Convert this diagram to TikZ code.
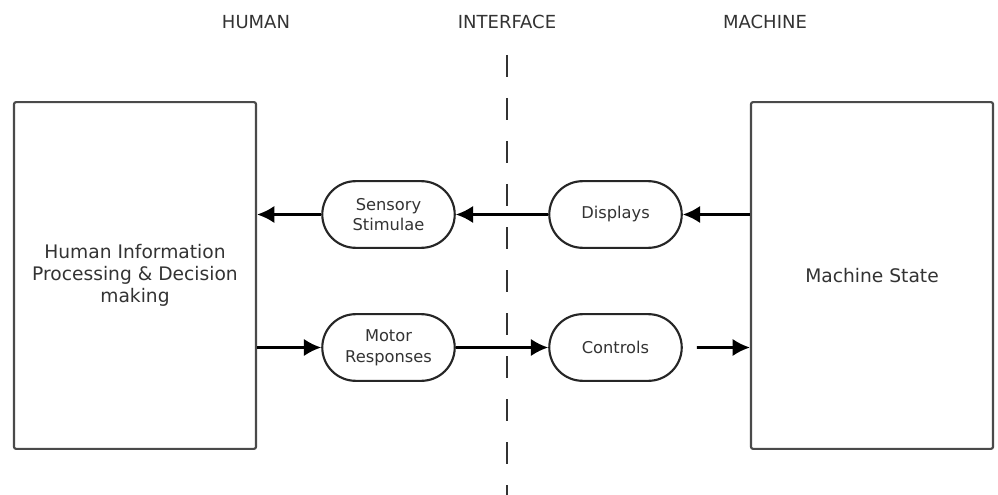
\documentclass[tikz,border=0pt]{standalone}
\usepackage{fontspec}
\setmainfont{DejaVu Sans}
\usetikzlibrary{shapes.misc,arrows.meta}
\definecolor{txtgray}{HTML}{333333}
\definecolor{linegray}{HTML}{4A4A4A}
\tikzset{
	bigbox/.style={draw=linegray,line width=1.6pt,rounded corners=1.5pt,minimum width=181.5pt,minimum height=260pt,align=center,text=txtgray,font=\fontsize{14}{16.5}\selectfont},
	pill/.style={draw=black!85,line width=1.6pt,rounded rectangle,minimum width=106pt,minimum height=50pt,align=center,text=txtgray,font=\fontsize{12.2}{15.5}\selectfont},
	side/.style={text=txtgray,font=\fontsize{13.5}{16}\selectfont},
	flow/.style={line width=1.9pt,-{Latex[length=13pt,width=13pt]}}
}
\begin{document}
\begin{tikzpicture}[x=0.75pt,y=-0.75pt]
	\useasboundingbox (0,0) rectangle (998,495);
	% headings
	\node[side] (human) at (256,22) {HUMAN};
	\node[side] (iface) at (507,22) {INTERFACE};
	\node[side] (machine) at (765,22) {MACHINE};
	\draw[black!80,line width=2pt,dash pattern=on 16.5pt off 15.75pt] (507,55) -- (507,495);
	% boxes
	\node[bigbox] (hip) at (135,275.5) {Human Information\\Processing \& Decision\\making};
	\node[bigbox] (ms) at (872,275.5) {Machine State};
	\node[pill] (sens) at (388.5,214.5) {Sensory\\Stimulae};
	\node[pill] (disp) at (615.5,214.5) {Displays};
	\node[pill] (motor) at (388.5,347.5) {Motor\\Responses};
	\node[pill] (ctrl) at (615.5,347.5) {Controls};
	% arrows
	\draw[flow] (ms.west |- disp) -- (disp);
	\draw[flow] (disp) -- (sens);
	\draw[flow] (sens) -- (hip.east |- sens);
	\draw[flow] (hip.east |- motor) -- (motor);
	\draw[flow] (motor) -- (ctrl);
	\draw[flow,shorten <=10.5pt] (ctrl) -- (ms.west |- ctrl);
\end{tikzpicture}
\end{document}
